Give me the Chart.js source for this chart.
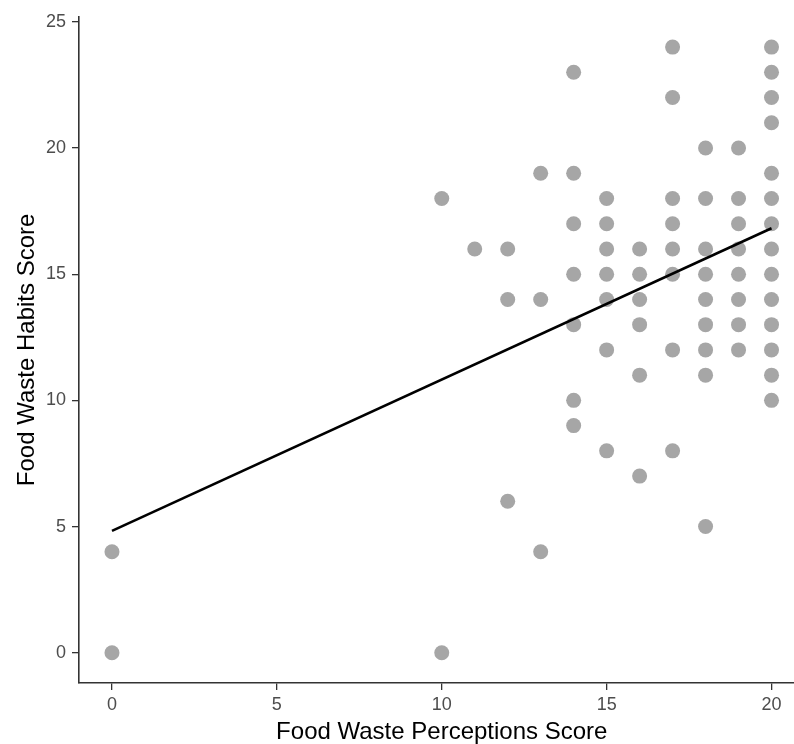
<!DOCTYPE html>
<html>
<head>
<meta charset="utf-8">
<script src="https://cdn.jsdelivr.net/npm/chart.js@4/dist/chart.umd.min.js"></script>
<style>
  html, body { margin: 0; padding: 0; background: #fff; overflow: hidden; }
  #wrap { width: 812px; height: 744px; }
</style>
</head>
<body>
<div id="wrap"><canvas id="myChart" width="812" height="744"></canvas></div>
<script>
// survey scores, one entry per respondent (x = perceptions, y = habits)
const perceptions = [
  0, 0,
  10, 10,
  11,
  12, 12, 12,
  13, 13, 13,
  14, 14, 14, 14, 14, 14, 14,
  15, 15, 15, 15, 15, 15, 15,
  16, 16, 16, 16, 16, 16,
  17, 17, 17, 17, 17, 17, 17, 17,
  18, 18, 18, 18, 18, 18, 18, 18, 18,
  19, 19, 19, 19, 19, 19, 19, 19,
  20, 20, 20, 20, 20, 20, 20, 20, 20, 20, 20, 20, 20, 20
];
const habits = [
  4, 0,
  18, 0,
  16,
  16, 14, 6,
  19, 14, 4,
  23, 19, 17, 15, 13, 10, 9,
  18, 17, 16, 15, 14, 12, 8,
  16, 15, 14, 13, 11, 7,
  24, 22, 18, 17, 16, 15, 12, 8,
  20, 18, 16, 15, 14, 13, 12, 11, 5,
  20, 18, 17, 16, 15, 14, 13, 12,
  24, 23, 22, 21, 19, 18, 17, 16, 15, 14, 13, 12, 11, 10
];

// fitted regression line (ends)
const fitX = [0, 20];
const fitY = [4.83, 16.82];

const xTicks = [0, 5, 10, 15, 20];
const yTicks = [0, 5, 10, 15, 20, 25];

const points = perceptions.map((p, i) => ({ x: p, y: habits[i] }));
const fitLine = fitX.map((p, i) => ({ x: p, y: fitY[i] }));

const tickFont = { family: "'Liberation Sans', Arial, sans-serif", size: 18 };
const titleFont = { family: "'Liberation Sans', Arial, sans-serif", size: 24, lineHeight: 1 };

var ctx = document.getElementById('myChart').getContext('2d');
var chart = new Chart(ctx, {
  type: 'scatter',
  data: {
    datasets: [
      {
        label: 'fit',
        data: fitLine,
        showLine: true,
        borderColor: '#000000',
        borderWidth: 2.6,
        pointRadius: 0,
        fill: false
      },
      {
        label: 'respondents',
        data: points,
        backgroundColor: '#A6A6A6',
        borderWidth: 0,
        pointRadius: 7.5,
        pointHoverRadius: 7.5
      }
    ]
  },
  options: {
    responsive: false,
    animation: false,
    layout: { padding: { top: 12, right: 3, left: 0, bottom: 0 } },
    plugins: {
      legend: { display: false },
      tooltip: { enabled: false }
    },
    scales: {
      x: {
        type: 'linear',
        min: -1,
        max: 21,
        afterBuildTicks: (scale) => { scale.ticks = xTicks.map(v => ({ value: v })); },
        afterFit: (scale) => { scale.height = 61; },
        grid: { drawOnChartArea: false, drawTicks: true, tickLength: 7, color: '#333333', lineWidth: 1.3 },
        border: { display: true, color: '#333333', width: 1.6 },
        ticks: { color: '#4D4D4D', font: tickFont, padding: 4, autoSkip: false, maxRotation: 0 },
        title: { display: true, text: 'Food Waste Perceptions Score', color: '#000000', font: titleFont, padding: { top: 0, bottom: 0 } }
      },
      y: {
        type: 'linear',
        min: -1.2,
        max: 25.2,
        afterBuildTicks: (scale) => { scale.ticks = yTicks.map(v => ({ value: v })); },
        afterFit: (scale) => { scale.width = 79; },
        grid: { drawOnChartArea: false, drawTicks: true, tickLength: 7, color: '#333333', lineWidth: 1.3 },
        border: { display: true, color: '#333333', width: 1.6 },
        ticks: { color: '#4D4D4D', font: tickFont, padding: 6, autoSkip: false },
        title: { display: true, text: 'Food Waste Habits Score', color: '#000000', font: titleFont, padding: { top: 15, bottom: 0 } }
      }
    }
  }
});
</script>
</body>
</html>
